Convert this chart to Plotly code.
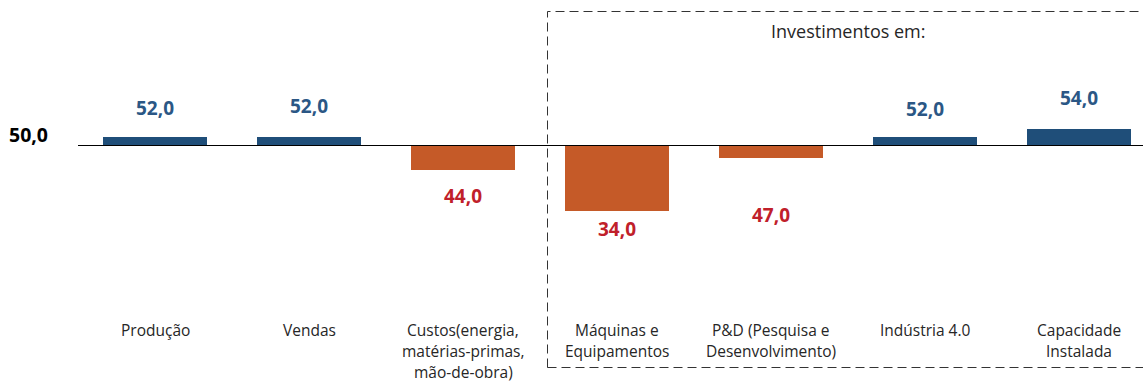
import plotly.graph_objects as go

# Survey indicators (base line at 50,0)
categories = [
    "Produção",
    "Vendas",
    "Custos(energia,<br>matérias-primas,<br>mão-de-obra)",
    "Máquinas e<br>Equipamentos",
    "P&D (Pesquisa e<br>Desenvolvimento)",
    "Indústria 4.0",
    "Capacidade<br>Instalada",
]
values = [52.0, 52.0, 44.0, 34.0, 47.0, 52.0, 54.0]
baseline = 50.0
group_title = "Investimentos em:"

# Label placement (pixel offsets from the bar end)
label_shift = [29, 31, -26, -18, -57, 28, 31]

BLUE = "#1F4E79"
ORANGE = "#C55A28"
BLUE_TXT = "#2B5785"
RED_TXT = "#C0202A"
FONT = "Open Sans"

W, H = 1143, 383
px_per_unit = 4.12
base_px = 145.5
cat0_px, step_px = 155, 154


def px_to_x(p):
    return (p - cat0_px) / step_px


xs = list(range(len(categories)))
colors = [BLUE if v >= baseline else ORANGE for v in values]

fig = go.Figure()
fig.add_trace(go.Bar(
    x=xs,
    y=[v - baseline for v in values],
    base=baseline,
    width=0.67,
    marker=dict(color=colors, line=dict(width=0)),
    hoverinfo="skip",
))

x_range = [px_to_x(0), px_to_x(W)]
y_range = [baseline - (H - base_px) / px_per_unit, baseline + base_px / px_per_unit]

annotations = []
# value labels
for x, v, s in zip(xs, values, label_shift):
    annotations.append(dict(
        x=x, y=v, xref="x", yref="y",
        text="<b>" + f"{v:.1f}".replace(".", ",") + "</b>",
        showarrow=False, yshift=s, xanchor="center", yanchor="middle",
        font=dict(family=FONT, size=19, color=BLUE_TXT if v >= baseline else RED_TXT),
    ))
# category labels, one annotation per line
line_px = [329.5, 350.5, 371.5]
for x, c in zip(xs, categories):
    for i, line in enumerate(c.split("<br>")):
        annotations.append(dict(
            x=x, y=1 - line_px[i] / H, xref="x", yref="paper", text=line,
            showarrow=False, xanchor="center", yanchor="middle", borderpad=0,
            font=dict(family=FONT, size=15.5, color="#262626"),
        ))
# base value label
annotations.append(dict(
    x=50 / W, y=baseline, xref="paper", yref="y", text="<b>50,0</b>",
    showarrow=False, xanchor="right", yanchor="middle", yshift=11,
    font=dict(family=FONT, size=19.5, color="#000000"),
))
# group title
annotations.append(dict(
    x=848 / W, y=1 - 31 / H, xref="paper", yref="paper", text=group_title,
    showarrow=False, xanchor="center", yanchor="middle",
    font=dict(family=FONT, size=18, color="#262626"),
))

shapes = [
    # base line
    dict(type="line", xref="x", yref="y", x0=px_to_x(78), x1=x_range[1], y0=baseline, y1=baseline,
         line=dict(color="#000000", width=1), layer="above"),
    # dashed frame around investment indicators
    dict(type="rect", xref="x", yref="paper", x0=px_to_x(547.5), x1=px_to_x(W + 40),
         y0=1 - 367.5 / H, y1=1 - 11.5 / H,
         line=dict(color="#333333", width=1, dash="9px,5px"), fillcolor="rgba(0,0,0,0)"),
]

fig.update_layout(
    width=W, height=H,
    margin=dict(l=0, r=0, t=0, b=0),
    paper_bgcolor="white", plot_bgcolor="white",
    showlegend=False,
    xaxis=dict(range=x_range, visible=False, fixedrange=True),
    yaxis=dict(range=y_range, visible=False, fixedrange=True),
    annotations=annotations,
    shapes=shapes,
    bargap=0,
)

fig.write_html("out.html")
